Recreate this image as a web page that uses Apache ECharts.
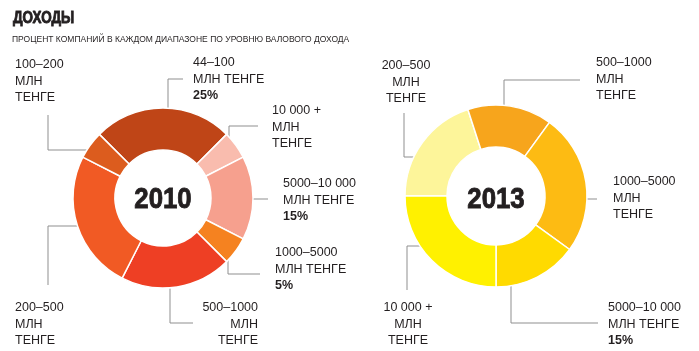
<!DOCTYPE html>
<html><head><meta charset="utf-8">
<script src="https://cdn.jsdelivr.net/npm/echarts@6/dist/echarts.min.js"></script>
<style>html,body{margin:0;padding:0;background:#fff}#c{width:699px;height:351px}</style>
</head><body><div id="c"></div>
<script>
// ---------- DATA ----------
const categories2010 = ['44–100', '10 000 +', '5000–10 000', '1000–5000', '500–1000', '200–500', '100–200'];
const values2010 = [25, 5, 15, 5, 20, 25, 5];
const pctShown2010 = [true, false, true, true, false, false, false];
const categories2013 = ['200–500', '500–1000', '1000–5000', '5000–10 000', '10 000 +'];
const values2013 = [20, 15, 25, 15, 25];
const pctShown2013 = [false, false, false, true, false];
const unitLabel = 'МЛН ТЕНГЕ';
const years = ['2010', '2013'];
const titleText = 'ДОХОДЫ';
const subtitleText = 'ПРОЦЕНТ КОМПАНИЙ В КАЖДОМ ДИАПАЗОНЕ ПО УРОВНЮ ВАЛОВОГО ДОХОДА';

// ---------- STYLE / LAYOUT ----------
const colors2010 = ['#bf4517', '#f9bcae', '#f6a08e', '#f58220', '#ee3f24', '#f15a24', '#dc5c1e'];
const colors2013 = ['#fdf59a', '#f7a51c', '#fdbb13', '#ffda00', '#fff100'];
const TXT = '#231f20';
const LINE = '#8f8f8f';
const LH = 16.5;
const FONT = "'Liberation Sans', Arial, sans-serif";
const PIES = [
  { center: [163, 198], radius: [48, 90], startAngle: 135 },
  { center: [496, 196], radius: [49, 91], startAngle: 180 }
];
// label layout: x, first-line centre y, align, unit split in two lines, leader [dir, fixed, elbow, end], anchor radius
const LAYOUT = [
  [
    { x: 193, y: 63, align: 'left', split: false, leader: ['v', 168, 79, 183], r: 72 },
    { x: 272, y: 111, align: 'left', split: true, leader: ['v', 229, 126, 258], r: 80 },
    { x: 283, y: 184, align: 'left', split: false, leader: ['h', 199, 268], r: 74 },
    { x: 275, y: 253, align: 'left', split: false, leader: ['v', 228, 274, 260], r: 81 },
    { x: 258, y: 308, align: 'right', split: true, leader: ['v', 170, 323, 193], r: 72 },
    { x: 15, y: 308, align: 'left', split: true, leader: ['h', 226, 48, 285], r: 65 },
    { x: 15, y: 65, align: 'left', split: true, leader: ['h', 150, 48, 115], r: 79 }
  ],
  [
    { x: 406, y: 66, align: 'center', split: true, leader: ['h', 157, 404, 113], r: 67 },
    { x: 596, y: 63, align: 'left', split: true, leader: ['v', 504, 80, 580], r: 71 },
    { x: 613, y: 182, align: 'left', split: true, leader: ['h', 199, 597], r: 67 },
    { x: 608, y: 308, align: 'left', split: false, leader: ['v', 511, 323, 598], r: 74 },
    { x: 408, y: 308, align: 'center', split: true, leader: ['h', 246, 407, 290], r: 71 }
  ]
];

function midAngles(values, startAngle) {
  const total = values.reduce((a, b) => a + b, 0);
  let acc = 0;
  return values.map(v => {
    const m = (90 - startAngle) + (acc + v / 2) / total * 360;
    acc += v;
    return m * Math.PI / 180;
  });
}

function makeSeries(pi, cats, vals, pcts, cols) {
  const P = PIES[pi];
  const mids = midAngles(vals, P.startAngle);
  return {
    type: 'pie',
    center: P.center,
    radius: P.radius,
    startAngle: P.startAngle,
    clockwise: true,
    avoidLabelOverlap: false,
    animation: false,
    emphasis: { disabled: true },
    itemStyle: { borderColor: '#fff', borderWidth: 1.5 },
    data: cats.map((c, i) => ({ name: c, value: vals[i], itemStyle: { color: cols[i] } })),
    label: {
      show: true,
      color: TXT,
      fontFamily: FONT,
      fontSize: 12.5,
      lineHeight: LH,
      formatter: p => {
        const L = LAYOUT[pi][p.dataIndex];
        let s = p.name + '\n' + (L.split ? unitLabel.replace(' ', '\n') : unitLabel);
        if (pcts[p.dataIndex]) s += '\n{b|' + p.value + '%}';
        return s;
      },
      rich: { b: { fontWeight: 'bold', fontFamily: FONT, fontSize: 12.5, lineHeight: LH, color: TXT } }
    },
    labelLine: { show: true, smooth: false, lineStyle: { color: LINE, width: 1 } },
    labelLayout: params => {
      const i = params.dataIndex;
      const L = LAYOUT[pi][i];
      const [cx, cy] = P.center;
      const a = mids[i];
      const ld = L.leader;
      let pts;
      if (ld[0] === 'v') {
        const x = ld[1];
        const dy = Math.sqrt(Math.max(0, L.r * L.r - (x - cx) * (x - cx)));
        const sy = Math.cos(a) > 0 ? -1 : 1;
        pts = [[x, cy + sy * dy], [x, ld[2]], [ld[3], ld[2]]];
      } else {
        const y = ld[1];
        const dx = Math.sqrt(Math.max(0, L.r * L.r - (y - cy) * (y - cy)));
        const sx = Math.sin(a) > 0 ? 1 : -1;
        const st = [cx + sx * dx, y];
        pts = ld.length === 3 ? [st, [ld[2], y], [ld[2], y]] : [st, [ld[2], y], [ld[2], ld[3]]];
      }
      return { x: L.x, y: L.y - LH / 2, align: L.align, verticalAlign: 'top', labelLinePoints: pts };
    }
  };
}

function heavyText(text, x, y, size, sx, align, vAlign) {
  return {
    type: 'text', x: x, y: y, scaleX: sx,
    style: {
      text: text, font: 'bold ' + size + 'px ' + FONT, fill: TXT,
      stroke: TXT, lineWidth: 0.9,
      textAlign: align, textVerticalAlign: vAlign
    }
  };
}

const chart = echarts.init(document.getElementById('c'), null, { renderer: 'canvas' });
chart.setOption({
  backgroundColor: '#fff',
  animation: false,
  series: [
    makeSeries(0, categories2010, values2010, pctShown2010, colors2010),
    makeSeries(1, categories2013, values2013, pctShown2013, colors2013)
  ],
  graphic: [
    heavyText(titleText, 13, 19, 16, 0.84, 'left', 'middle'),
    { type: 'text', left: 12, top: 35, style: { text: subtitleText, font: '8.5px ' + FONT, fill: TXT } },
    heavyText(years[0], PIES[0].center[0], 200, 30, 0.86, 'center', 'middle'),
    heavyText(years[1], PIES[1].center[0], 200, 30, 0.86, 'center', 'middle')
  ]
});
</script></body></html>
